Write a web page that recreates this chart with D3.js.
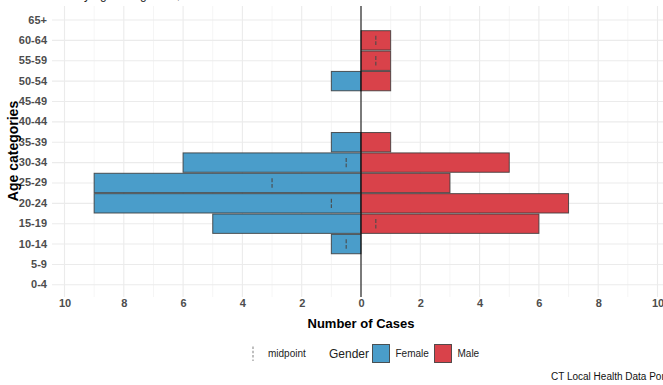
<!DOCTYPE html>
<html>
<head>
<meta charset="utf-8">
<script src="https://cdn.jsdelivr.net/npm/d3@7"></script>
<style>
  html, body { margin: 0; padding: 0; background: #fff; }
  svg { display: block; font-family: "Liberation Sans", Arial, sans-serif; }
</style>
</head>
<body>
<svg id="chart" width="663" height="385"></svg>
<script>
// ---- data ----
const ageGroups = ["0-4","5-9","10-14","15-19","20-24","25-29","30-34","35-39","40-44","45-49","50-54","55-59","60-64","65+"];
const femaleCases = [0,0,1,5,9,9,6,1,0,0,1,0,0,0];
const maleCases   = [0,0,0,6,7,3,5,1,0,0,1,1,1,0];
const midpoints   = [null,null,-0.5,0.5,-1,-3,-0.5,null,null,null,null,0.5,0.5,null];
const xTicks = [-10,-8,-6,-4,-2,0,2,4,6,8,10];
const genders = ["Female","Male"];
const genderColors = ["#4a9dca","#d9424a"];

// ---- layout ----
const svg = d3.select("#chart");
const panel = {left: 52, right: 663, top: 6, bottom: 297};

const x = d3.scaleLinear().domain([-10, 10]).range([64.5, 657.5]);
const y = d3.scaleBand()
  .domain(ageGroups.slice().reverse())
  .range([9.8, 295.0])
  .paddingInner(0).paddingOuter(0);
const step = y.step();
const barH = step * 0.95;
const yc = d => y(d) + step / 2;

// clipped partial title at top (cut off in the reference as well)
svg.append("text").attr("x", 40).attr("y", -1.5)
  .attr("font-size", 12).attr("fill", "#222")
  .text("Cases by age and gender, Connecticut");

// grid
const grid = svg.append("g");
d3.range(-10, 11, 1).forEach(v => {
  grid.append("line")
    .attr("x1", x(v)).attr("x2", x(v))
    .attr("y1", panel.top).attr("y2", panel.bottom)
    .attr("stroke", v % 2 === 0 ? "#ebebeb" : "#f2f2f2")
    .attr("stroke-width", v % 2 === 0 ? 1.1 : 0.8);
});
ageGroups.forEach(a => {
  grid.append("line")
    .attr("x1", panel.left).attr("x2", panel.right)
    .attr("y1", yc(a)).attr("y2", yc(a))
    .attr("stroke", "#ebebeb").attr("stroke-width", 1.1);
});

// bars
const bars = svg.append("g");
ageGroups.forEach((a, i) => {
  if (femaleCases[i] > 0) {
    bars.append("rect")
      .attr("x", x(-femaleCases[i])).attr("width", x(0) - x(-femaleCases[i]))
      .attr("y", yc(a) - barH / 2).attr("height", barH)
      .attr("fill", genderColors[0]).attr("stroke", "#3a3a3a").attr("stroke-width", 1)
      .attr("stroke-opacity", 0.85);
  }
  if (maleCases[i] > 0) {
    bars.append("rect")
      .attr("x", x(0)).attr("width", x(maleCases[i]) - x(0))
      .attr("y", yc(a) - barH / 2).attr("height", barH)
      .attr("fill", genderColors[1]).attr("stroke", "#3a3a3a").attr("stroke-width", 1)
      .attr("stroke-opacity", 0.85);
  }
});

// midpoints
ageGroups.forEach((a, i) => {
  if (midpoints[i] !== null) {
    svg.append("line")
      .attr("x1", x(midpoints[i])).attr("x2", x(midpoints[i]))
      .attr("y1", yc(a) - 4.7).attr("y2", yc(a) + 4.7)
      .attr("stroke", "#4a4a4a").attr("stroke-width", 1.1)
      .attr("stroke-dasharray", "4,1.7");
  }
});

// zero line
svg.append("line")
  .attr("x1", x(0)).attr("x2", x(0))
  .attr("y1", panel.top).attr("y2", panel.bottom)
  .attr("stroke", "#000").attr("stroke-width", 1);

// x axis labels
const xAxis = d3.axisBottom(x).tickValues(xTicks).tickSize(0).tickPadding(0)
  .tickFormat(d => Math.abs(d));
const gx = svg.append("g").attr("transform", "translate(0,299)").call(xAxis);
gx.select(".domain").remove();
gx.selectAll("text").attr("font-size", 11).attr("font-weight", "bold")
  .attr("fill", "#4d4d4d").attr("font-family", "Liberation Sans, Arial, sans-serif")
  .attr("dy", "0.71em");

// y axis labels
const yAxis = d3.axisLeft(y).tickSize(0).tickPadding(0);
const gy = svg.append("g").attr("transform", "translate(47,0)").call(yAxis);
gy.select(".domain").remove();
gy.selectAll("text").attr("font-size", 11).attr("font-weight", "bold")
  .attr("fill", "#4d4d4d").attr("font-family", "Liberation Sans, Arial, sans-serif");

// axis titles
svg.append("text").attr("x", x(0)).attr("y", 328)
  .attr("text-anchor", "middle").attr("font-size", 13).attr("font-weight", "bold")
  .attr("fill", "#000").text("Number of Cases");
svg.append("text").attr("transform", "translate(18,151) rotate(-90)")
  .attr("text-anchor", "middle").attr("font-size", 14).attr("font-weight", "bold")
  .attr("fill", "#000").text("Age categories");

// legend
const lg = svg.append("g");
lg.append("line").attr("x1", 253).attr("x2", 253).attr("y1", 346.5).attr("y2", 361)
  .attr("stroke", "#8a8a8a").attr("stroke-width", 1.1).attr("stroke-dasharray", "2.5,1.8");
lg.append("text").attr("x", 268).attr("y", 357).attr("font-size", 10).attr("fill", "#222").text("midpoint");
lg.append("text").attr("x", 329).attr("y", 358).attr("font-size", 12).attr("fill", "#222").text("Gender");
const keyX = [372.5, 434.5];
genders.forEach((g, i) => {
  lg.append("rect").attr("x", keyX[i]).attr("y", 344.5).attr("width", 17).attr("height", 18)
    .attr("fill", genderColors[i]).attr("stroke", "#3a3a3a").attr("stroke-width", 1).attr("stroke-opacity", 0.85);
  lg.append("text").attr("x", keyX[i] + 23).attr("y", 357).attr("font-size", 10)
    .attr("fill", "#222").text(g);
});

// caption (cut off at the right edge in the reference as well)
svg.append("text").attr("x", 551).attr("y", 380).attr("font-size", 10)
  .attr("fill", "#111").text("CT Local Health Data Portal");
</script>
</body>
</html>
